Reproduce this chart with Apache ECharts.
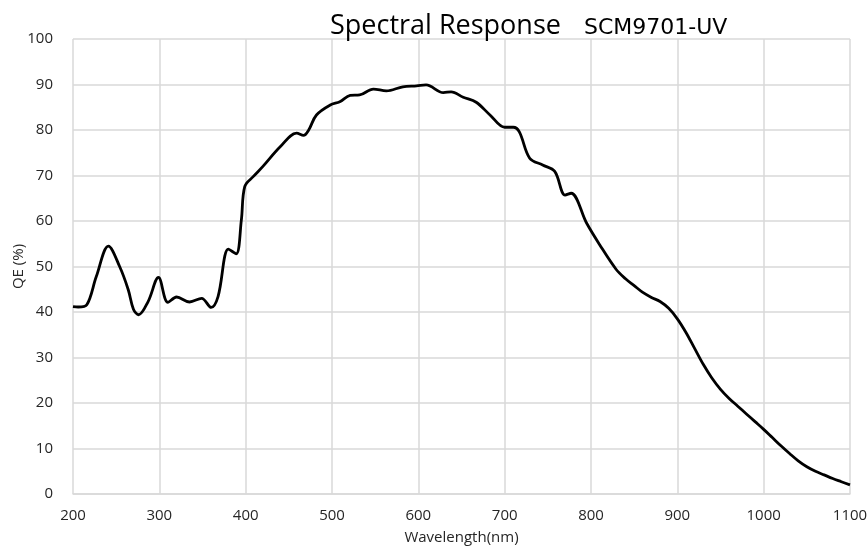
<!DOCTYPE html>
<html>
<head>
<meta charset="utf-8">
<script src="https://cdn.jsdelivr.net/npm/echarts@6/dist/echarts.min.js"></script>
<style>
  html, body { margin: 0; padding: 0; background: #fff; }
  #chart { width: 868px; height: 547px; }
</style>
</head>
<body>
<div id="chart"></div>
<script>
// wavelength (nm) and QE (%)
const wavelength = [200, 206, 216, 227, 241, 254, 264, 270, 276, 287, 299, 310, 320, 335, 349, 360, 368, 380, 389, 395,
  399, 409, 420, 440, 459, 467, 473, 482, 498, 509, 521, 532, 548, 563, 582, 598, 609, 629, 638, 652,
  667, 683, 700, 710, 717, 729, 744, 758, 770, 777, 795, 810, 829, 840, 850, 860, 870, 880, 890, 900,
  910, 920, 930, 940, 950, 960, 970, 980, 990, 1000, 1010, 1020, 1030, 1040, 1050, 1060, 1070, 1080, 1090, 1100];
const qe = [41.2, 41.1, 41.6, 47.8, 54.5, 50.0, 44.9, 40.6, 39.4, 42.3, 47.6, 42.1, 43.3, 42.2, 43.0, 41.0, 43.4, 53.8, 52.8, 60.2,
  67.6, 69.8, 72.0, 76.3, 79.3, 78.8, 80.0, 83.3, 85.5, 86.2, 87.6, 87.7, 89.0, 88.6, 89.5, 89.7, 89.9, 88.2, 88.4, 87.2,
  86.1, 83.3, 80.6, 80.6, 79.6, 73.8, 72.3, 70.9, 65.7, 66.1, 59.5, 54.8, 49.4, 47.3, 45.8, 44.3, 43.2, 42.3, 40.8, 38.5,
  35.5, 32.0, 28.5, 25.5, 23.0, 21.0, 19.3, 17.6, 15.9, 14.2, 12.4, 10.6, 8.9, 7.3, 6.0, 5.0, 4.2, 3.4, 2.7, 2.0];

const xTicks = [200, 300, 400, 500, 600, 700, 800, 900, 1000, 1100];
const yTicks = [0, 10, 20, 30, 40, 50, 60, 70, 80, 90, 100];

const points = wavelength.map((w, i) => [w, qe[i]]);

const chart = echarts.init(document.getElementById("chart"));
const option = {
  animation: false,
  title: [
    {
      text: "Spectral Response",
      left: 330,
      top: 13,
      padding: 0,
      textStyle: {
        fontFamily: "Open Sans",
        fontSize: 27,
        fontWeight: 400,
        color: "#000"
      }
    },
    {
      text: "SCM9701-UV",
      left: 584,
      top: 17,
      padding: 0,
      textStyle: {
        fontFamily: "DejaVu Sans",
        fontSize: 22,
        fontWeight: 400,
        color: "#000"
      }
    }
  ],
  grid: {
    left: 73,
    right: 18,
    top: 39,
    bottom: 53,
    outerBoundsMode: "none"
  },
  xAxis: {
    type: "value",
    min: xTicks[0],
    max: xTicks[xTicks.length - 1],
    interval: 100,
    name: "Wavelength(nm)",
    nameLocation: "middle",
    nameGap: 36,
    nameMoveOverlap: false,
    nameTextStyle: { fontFamily: "Open Sans", fontSize: 15, color: "#262626" },
    axisLine: { lineStyle: { color: "#d9d9d9", width: 1.5 } },
    axisTick: { show: false },
    axisLabel: {
      fontFamily: "Open Sans", fontSize: 15, color: "#262626", margin: 14,
      formatter: (v) => String(v)
    },
    splitLine: { lineStyle: { color: "#d9d9d9", width: 1.5 } }
  },
  yAxis: {
    type: "value",
    min: yTicks[0],
    max: yTicks[yTicks.length - 1],
    interval: 10,
    name: "QE (%)",
    nameLocation: "middle",
    nameGap: 47,
    nameMoveOverlap: false,
    nameTextStyle: { fontFamily: "Open Sans", fontSize: 15, color: "#262626" },
    axisLine: { show: false },
    axisTick: { show: false },
    axisLabel: { fontFamily: "Open Sans", fontSize: 15, color: "#262626", margin: 20 },
    splitLine: { lineStyle: { color: "#d9d9d9", width: 1.5 } }
  },
  series: [
    {
      type: "line",
      data: points,
      smooth: 0.35,
      showSymbol: false,
      lineStyle: { color: "#000", width: 2.8 }
    }
  ]
};
chart.setOption(option);
</script>
</body>
</html>
